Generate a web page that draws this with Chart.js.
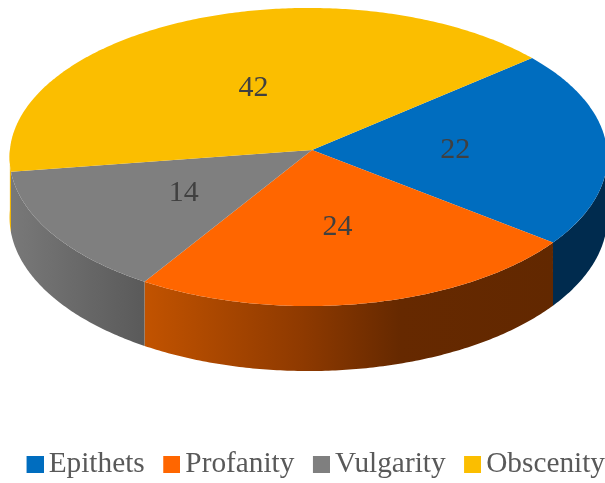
<!DOCTYPE html>
<html lang="en">
<head>
    <meta charset="UTF-8">
    <title>Pie 3D</title>
    <script src="https://cdn.jsdelivr.net/npm/chart.js"></script>
    <style>
        body { margin: 0; background: #fff; }
        canvas { display: block; }
    </style>
</head>
<body>
    <canvas id="pieChart" width="605" height="483"></canvas>

    <script>
        const categories = ['Epithets', 'Profanity', 'Vulgarity', 'Obscenity'];
        const values = [22, 24, 14, 42];
        const colors = ['#006dbf', '#ff6600', '#7f7f7f', '#fbbe00'];

        // side wall shading, [x pixel, colour]
        const sideShades = [
            [[0, '#002b4e']],
            [[144, '#c25300'], [300, '#8f3a00'], [400, '#662900'], [555, '#622800']],
            [[13, '#787878'], [144, '#5a5a5a']],
            [[0, '#f0b400']]
        ];

        const serif = '"Liberation Serif", serif';

        // legend square on the right of a wider image, so it sits closer to the text than boxWidth allows
        function legendSquare(color) {
            const c = document.createElement('canvas');
            c.width = 45;
            c.height = 17;
            const g = c.getContext('2d');
            g.fillStyle = color;
            g.fillRect(28, 0, 17, 17);
            return c;
        }

        // tilted view of the unit circle, nearer edge comes out a bit bigger
        function project(arc, chart, angle, r) {
            const s = Math.sin(angle);
            const c = Math.cos(angle);
            const w = 1 - 0.047 * s + 0.012 * c;
            return {
                x: arc.x + 9.5 + 298.5 * r * c / w,
                y: chart.chartArea.top + 150 + 148.7 * r * s / w
            };
        }

        const pie3d = {
            id: 'pie3d',
            beforeDatasetsDraw(chart) {
                const ctx = chart.ctx;
                const arcs = chart.getDatasetMeta(0).data;

                // side walls first
                arcs.forEach((arc, i) => {
                    const from = Math.max(arc.startAngle, 0);
                    const to = Math.min(arc.endAngle, Math.PI);
                    if (to <= from) return;

                    const grad = ctx.createLinearGradient(0, 0, 605, 0);
                    sideShades[i].forEach(([x, col]) => grad.addColorStop(x / 605, col));

                    const steps = Math.ceil((to - from) * 90);
                    ctx.beginPath();
                    for (let k = 0; k <= steps; k++) {
                        const a = from + (to - from) * k / steps;
                        const p = project(arc, chart, a, 1);
                        ctx.lineTo(p.x, p.y);
                    }
                    for (let k = steps; k >= 0; k--) {
                        const a = from + (to - from) * k / steps;
                        const p = project(arc, chart, a, 1);
                        ctx.lineTo(p.x, p.y + 60 + 5 * Math.sin(a));
                    }
                    ctx.closePath();
                    ctx.fillStyle = grad;
                    ctx.fill();
                });

                // top face
                arcs.forEach((arc, i) => {
                    const steps = Math.ceil((arc.endAngle - arc.startAngle) * 90);
                    const c = project(arc, chart, 0, 0);
                    ctx.beginPath();
                    ctx.moveTo(c.x, c.y);
                    for (let k = 0; k <= steps; k++) {
                        const a = arc.startAngle + (arc.endAngle - arc.startAngle) * k / steps;
                        const p = project(arc, chart, a, 1);
                        ctx.lineTo(p.x, p.y);
                    }
                    ctx.closePath();
                    ctx.fillStyle = colors[i];
                    ctx.fill();
                });

                // value labels
                ctx.fillStyle = '#404040';
                ctx.font = '30px ' + serif;
                ctx.textAlign = 'center';
                ctx.textBaseline = 'middle';
                arcs.forEach((arc, i) => {
                    const p = project(arc, chart, (arc.startAngle + arc.endAngle) / 2, 0.49);
                    ctx.fillText(String(values[i]), p.x - 1, p.y + 2);
                });

                return false;
            }
        };

        new Chart(document.getElementById('pieChart'), {
            type: 'pie',
            data: {
                labels: categories,
                datasets: [{ data: values, backgroundColor: colors }]
            },
            options: {
                responsive: false,
                animation: false,
                rotation: 50,
                layout: { padding: { bottom: -6 } },
                plugins: {
                    tooltip: { enabled: false },
                    legend: {
                        position: 'bottom',
                        align: 'end',
                        labels: {
                            color: '#595959',
                            font: { family: serif, size: 29.3 },
                            usePointStyle: true,
                            boxWidth: 26,
                            padding: 0,
                            generateLabels(chart) {
                                return categories.map((name, i) => ({
                                    text: name,
                                    fontColor: '#595959',
                                    fillStyle: colors[i],
                                    lineWidth: 0,
                                    pointStyle: legendSquare(colors[i]),
                                    index: i
                                }));
                            }
                        }
                    }
                }
            },
            plugins: [pie3d]
        });
    </script>
</body>
</html>
